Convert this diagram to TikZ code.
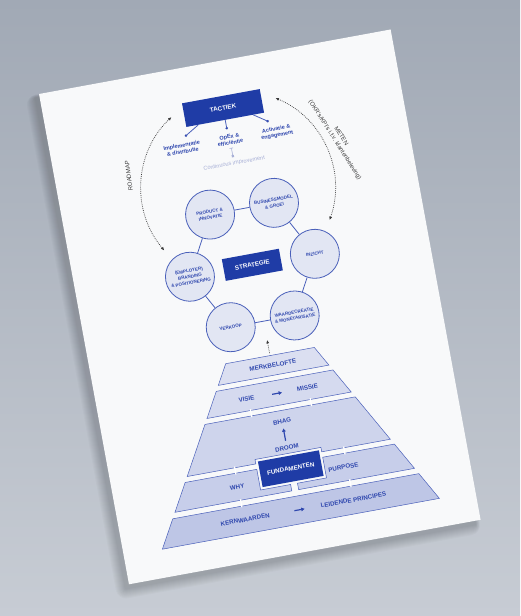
\documentclass[tikz,border=0pt]{standalone}
\usepackage{fontspec}
\setmainfont{Liberation Sans}
\setsansfont{Liberation Sans}
\usetikzlibrary{positioning, arrows.meta, calc}
\definecolor{bgtop}{HTML}{A1A9B5}
\definecolor{bgbottom}{HTML}{C7CCD4}
\definecolor{paperwhite}{HTML}{F8F9FA}
\definecolor{deepblue}{HTML}{1F3CA6}
\definecolor{inkblue}{HTML}{2F47AE}
\definecolor{ringblue}{HTML}{4A60BA}
\definecolor{circfill}{HTML}{E2E6F3}
\definecolor{softblue}{HTML}{A7AFD6}
\definecolor{dotgray}{HTML}{3C3C3C}

\begin{document}
\begin{tikzpicture}[
    x=1pt, y=-1pt,
    font=\sffamily,
    >=Latex,
    declare function={hw(\v)=0.56*\v-122.4;},
    % blue heading boxes
    headbox/.style={
        fill=deepblue, text=white, inner sep=0pt,
        font=\fontsize{6.2}{7}\selectfont\bfseries
    },
    % strategy circles
    pillar/.style={
        circle, draw=ringblue, line width=0.8pt, fill=circfill,
        minimum size=49pt, inner sep=0pt, align=center,
        text=inkblue, font=\fontsize{4.5}{6}\selectfont\bfseries
    },
    % tactic items under the heading
    tactic/.style={
        align=center, text=inkblue, inner sep=0pt,
        font=\fontsize{5.5}{6.3}\selectfont\bfseries
    },
    tipdot/.style={circle, fill=inkblue, minimum size=2.8pt, inner sep=0pt},
    % pyramid layers
    layer/.style={draw=ringblue, line width=0.5pt},
    layertext/.style={
        text=inkblue, inner sep=1pt,
        font=\fontsize{6.2}{7}\selectfont\bfseries
    },
    % arrows
    dotline/.style={dash pattern=on 0.8pt off 1.1pt, line width=0.7pt, draw=dotgray},
    roundtrip/.style={dotline, {Latex[length=3.5pt,width=3pt]}-{Latex[length=3.5pt,width=3pt]}},
    feed/.style={dotline, -{Latex[length=3.5pt,width=3pt]}},
    flowarrow/.style={-{Latex[length=3.5pt,width=4.2pt]}, line width=1.2pt, draw=inkblue},
    link/.style={draw=ringblue, line width=0.8pt},
    sidenote/.style={text=dotgray, align=center, inner sep=0pt, font=\fontsize{6}{7.5}\selectfont}
]

% backdrop
\fill[top color=bgtop, bottom color=bgbottom] (0,0) rectangle (520,616);
\useasboundingbox (0,0) rectangle (520,616);

\begin{scope}[shift={(39,94)}, rotate=10.4, transform shape]

% paper shadow and sheet
\foreach \k in {1,...,10}
    \fill[black, opacity=0.02, rounded corners=\k pt] (-4-\k, 3-0.3*\k) rectangle (352+0.4*\k, 502+\k);
\fill[paperwhite] (0,0) rectangle (357.5,498.5);

% tactics
\node[headbox, minimum width=79pt, minimum height=24pt] (tactiek) at (178.5,47) {TACTIEK};
\node[tipdot] (d1) at (137,67.5) {};
\node[tipdot] (d2) at (178.5,67.5) {};
\node[tipdot] (d3) at (220,68) {};
\draw[link] ([xshift=-27.5pt]tactiek.south) -- (d1.center);
\draw[link] (tactiek.south) -- (d2.center);
\draw[link] ([xshift=28.5pt]tactiek.south) -- (d3.center);
\node[tactic, below=5pt of d1, xshift=-6pt] (impl) {Implementatie\\\& distributie};
\node[tactic, below=5pt of d2, xshift=1pt] (opex) {OpEx \&\\efficiëntie};
\node[tactic, below=5pt of d3, xshift=7pt] (activ) {Activatie \&\\engagement};
\node[below=16pt of opex, text=softblue, inner sep=0pt, font=\fontsize{5.6}{6}\selectfont] (ci) {Continuous improvement};
\draw[softblue, line width=0.6pt, {Bar[width=3.5pt]}-{Square[length=2.2pt,width=2.2pt]},
      shorten <=3pt, shorten >=3.5pt] (opex.south) -- (ci.north);

% roadmap and measuring loop
\coordinate (ring) at (179,128);
\draw[roundtrip] ([shift={(-123:97)}]ring) arc[start angle=-123, end angle=-210, radius=97];
\draw[roundtrip] ([shift={(-57:97)}]ring) arc[start angle=-57, end angle=30, radius=97];
\node[sidenote, rotate=87] (roadmap) at (73.5,97) {ROADMAP};
\node[sidenote, rotate=-68] (meten) at (286,97.5) {METEN\\(OKR's/KPI's i.f.v. klantenbeleving)};

% strategy
\node[headbox, minimum width=58pt, minimum height=22pt] (strategie) at (179,206.5) {STRATEGIE};
\node[pillar] (product) at (146.5,149.5) {PRODUCT \&\\INNOVATIE};
\node[pillar] (business) at (211.5,149.5) {BUSINESSMODEL\\\& GROEI};
\node[pillar] (inzicht) at (242.5,207) {INZICHT};
\node[pillar] (waarde) at (211.5,264) {WAARDECREATIE\\\& MONETARISATIE};
\node[pillar] (verkoop) at (146.5,264) {VERKOOP};
\node[pillar] (branding) at (115.5,207) {(EMPLOYER)\\BRANDING\\\& POSITIONERING};
\foreach \a/\b in {product/business, business/inzicht, inzicht/waarde,
                   waarde/verkoop, verkoop/branding, branding/product}
    \draw[link] (\a) -- (\b);

% pyramid layers
\foreach \t/\b/\s in {299/319/20, 324.5/349.5/23, 442/470/36}
    \fill[layer, fill=ringblue!\s] ({180-hw(\t)},\t) -- ({180+hw(\t)},\t)
        -- ({180+hw(\b)},\b) -- ({180-hw(\b)},\b) -- cycle;
\fill[layer, fill=ringblue!27] ({180-hw(355)},355) -- ({180+hw(355)},355) -- ({180+hw(403)},403)
    -- (213.5,403) -- (213.5,398.5) -- (146.5,398.5) -- (146.5,403) -- ({180-hw(403)},403) -- cycle;
\fill[layer, fill=ringblue!31] ({180-hw(408.5)},408.5) -- (146.5,408.5) -- (146.5,429.5)
    -- (177,429.5) -- (177,436) -- ({180-hw(436)},436) -- cycle;
\fill[layer, fill=ringblue!31] (213.5,408.5) -- ({180+hw(408.5)},408.5) -- ({180+hw(436)},436)
    -- (184,436) -- (184,429.5) -- (213.5,429.5) -- cycle;
\foreach \u/\v in {151/352.2, 211.8/352.2, 125/405.7, 236/405.7, 125/439, 236/439}
    \draw[white, line width=1.3pt] (\u,\v-4) -- (\u,\v+4);

% pyramid texts
\node[layertext] (merk) at (181,309) {MERKBELOFTE};
\node[layertext] (visie) at (149,337.5) {VISIE};
\node[layertext] (missie) at (211,337.5) {MISSIE};
\draw[flowarrow, shorten <=17pt, shorten >=14pt] (visie) -- (missie);
\node[layertext] (bhag) at (180,366) {BHAG};
\node[layertext] (droom) at (180,393) {DROOM};
\draw[flowarrow, shorten <=4pt, shorten >=3.5pt] (droom) -- (bhag);
\node[headbox, minimum width=62pt, minimum height=26pt] (fund) at (180,414) {FUNDAMENTEN};
\node[layertext] (why) at (124,422) {WHY};
\node[layertext] (purpose) at (232,422) {PURPOSE};
\node[layertext] (kern) at (126,456) {KERNWAARDEN};
\node[layertext] (leidend) at (236,456) {LEIDENDE PRINCIPES};
\draw[flowarrow, shorten <=24pt, shorten >=15pt] (kern) -- (leidend);

% pyramid feeds the strategy
\coordinate (apex) at (180,296.5);
\coordinate (hexgap) at (180,283);
\draw[feed] (apex) -- (hexgap);

\end{scope}
\end{tikzpicture}
\end{document}
